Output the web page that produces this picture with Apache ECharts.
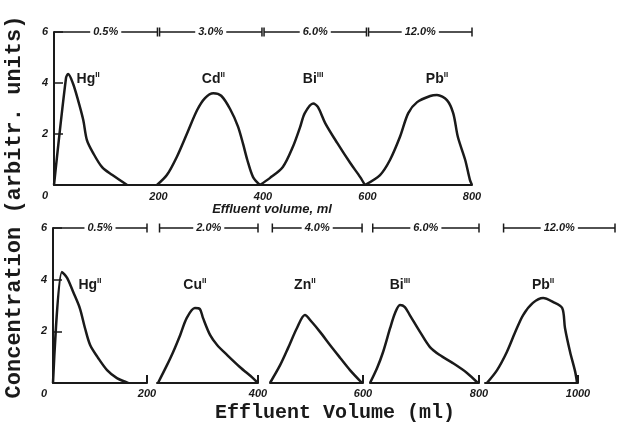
<!DOCTYPE html>
<html>
<head>
<meta charset="utf-8">
<script src="https://cdn.jsdelivr.net/npm/echarts@6/dist/echarts.min.js"></script>
<style>
	html, body { margin: 0; padding: 0; background: #fff; }
	#chart { width: 622px; height: 432px; }
</style>
</head>
<body>
<div id="chart"></div>
<script>
// upper run: 0.5 / 3 / 6 / 12 % steps, volume (ml) vs concentration
var hgTop = [[0, 0], [23, 4.2], [27, 4.35], [36, 4.0], [46, 3.33], [56, 2.55], [63, 1.76], [75, 1.25], [92, 0.7], [111, 0.4], [140, 0]];
var cdTop = [[197, 0], [216, 0.39], [235, 1.1], [255, 2.04], [274, 2.94], [289, 3.41], [305, 3.6], [320, 3.5], [337, 2.98], [352, 2.3], [362, 1.6], [370, 0.98], [381, 0.31], [394, 0]];
var biTop = [[394, 0], [413, 0.27], [438, 0.71], [457, 1.49], [471, 2.27], [480, 2.82], [496, 3.2], [505, 3.06], [519, 2.43], [542, 1.65], [567, 0.86], [586, 0.31], [595, 0]];
var pbTop = [[595, 0], [624, 0.39], [643, 0.98], [662, 1.88], [678, 2.82], [695, 3.25], [720, 3.49], [733, 3.53], [752, 3.33], [764, 2.82], [773, 1.88], [787, 0.98], [796, 0.2], [800, 0]];

// lower run: 0.5 / 2 / 4 / 6 / 12 % steps
var hgBottom = [[0, 0], [19, 4.3], [30, 4.07], [43, 3.52], [57, 2.9], [68, 2.13], [79, 1.47], [96, 0.97], [115, 0.5], [136, 0.19], [160, 0]];
var cuBottom = [[202, 0], [220, 0.7], [232, 1.2], [246, 1.86], [259, 2.52], [275, 2.9], [285, 2.86], [291, 2.52], [305, 1.86], [319, 1.47], [339, 1.08], [364, 0.62], [390, 0.19], [400, 0]];
var znBottom = [[400, 0], [422, 0.7], [439, 1.36], [458, 2.13], [475, 2.63], [490, 2.36], [508, 1.97], [529, 1.47], [551, 0.97], [572, 0.5], [598, 0]];
var biBottom = [[600, 0], [613, 0.58], [624, 1.2], [637, 2.13], [646, 2.71], [655, 3.02], [664, 2.94], [673, 2.63], [692, 1.97], [710, 1.39], [728, 1.08], [752, 0.77], [778, 0.39], [798, 0]];
var pbBottom = [[804, 0], [826, 0.5], [847, 1.2], [865, 1.97], [882, 2.63], [903, 3.1], [925, 3.29], [946, 3.14], [966, 2.9], [972, 2.13], [983, 1.2], [994, 0.43], [998, 0]];

var topIons = ['Hg', 'Cd', 'Bi', 'Pb'];
var topCharges = ['II', 'II', 'III', 'II'];
var topCurves = [hgTop, cdTop, biTop, pbTop];
var bottomIons = ['Hg', 'Cu', 'Zn', 'Bi', 'Pb'];
var bottomCharges = ['II', 'II', 'II', 'III', 'II'];
var bottomCurves = [hgBottom, cuBottom, znBottom, biBottom, pbBottom];

// eluent strength bands (ml ranges) drawn along the top of each panel
var topBands = [[0, 198], [202, 398], [402, 598], [602, 800]];
var topBandLabels = ['0.5%', '3.0%', '6.0%', '12.0%'];
var bottomBands = [[0, 200], [205, 400], [405, 598], [605, 800], [840, 1080]];
var bottomBandLabels = ['0.5%', '2.0%', '4.0%', '6.0%', '12.0%'];

// lower x axis is drawn in separate pieces
var bottomRanges = [[0, 200], [200, 400], [400, 600], [600, 800], [800, 1000]];
var yTicks = [0, 2, 4, 6];

var INK = '#1a1a1a';
var FONT = 'Liberation Sans';
var peakRich = {
	b: {fontFamily: FONT, fontWeight: 'bold', fontSize: 14, color: INK, lineHeight: 16},
	s: {fontFamily: FONT, fontWeight: 'bold', fontSize: 8, color: INK, lineHeight: 10, verticalAlign: 'top'}
};

var segLeft = [53, 157, 270, 370, 485];
var segWidth = [94, 101, 93, 109, 93];

var chart = echarts.init(document.getElementById('chart'));

function makeYAxis(gridIndex, visible) {
	return {
		gridIndex: gridIndex,
		type: 'value',
		min: yTicks[0],
		max: yTicks[yTicks.length - 1],
		interval: 2,
		show: visible,
		splitLine: {show: false},
		axisLine: {show: true, lineStyle: {color: INK, width: 2}},
		axisTick: {show: true, inside: true, length: 9, lineStyle: {color: INK, width: 1.5}},
		axisLabel: {
			margin: 6,
			fontFamily: FONT,
			fontStyle: 'italic',
			fontWeight: 'bold',
			fontSize: 11,
			color: INK,
			formatter: function (v) {
				return v === 0 ? '{z|0}' : String(v);
			},
			rich: {
				z: {fontFamily: FONT, fontStyle: 'italic', fontWeight: 'bold', fontSize: 11, color: INK, padding: [22, 0, 0, 0]}
			}
		}
	};
}

function curveSeries(data, axisIndex, ion, charge, labelY, dx) {
	var peak = data.reduce(function (a, b) {
		return b[1] > a[1] ? b : a;
	});
	return {
		type: 'line',
		xAxisIndex: axisIndex,
		yAxisIndex: axisIndex,
		data: data,
		symbol: 'none',
		smooth: 0.3,
		silent: true,
		lineStyle: {color: INK, width: 2.5},
		markPoint: {
			symbol: 'circle',
			symbolSize: 0,
			silent: true,
			data: [{coord: [peak[0], labelY]}],
			label: {
				show: true,
				position: 'inside',
				offset: [dx, 0],
				formatter: '{b|' + ion + '}{s|' + charge + '}',
				rich: peakRich
			}
		}
	};
}

function bandSeries(band, text, axisIndex, openStart) {
	var mid = (band[0] + band[1]) / 2;
	return {
		type: 'line',
		xAxisIndex: axisIndex,
		yAxisIndex: axisIndex,
		clip: false,
		silent: true,
		symbol: 'rect',
		symbolSize: [1.5, 9],
		itemStyle: {color: INK},
		lineStyle: {color: INK, width: 1.5},
		data: [
			{value: [band[0], 6], symbol: openStart ? 'none' : 'rect'},
			{
				value: [mid, 6],
				symbolSize: 0,
				label: {
					show: true,
					position: 'inside',
					formatter: text,
					backgroundColor: '#fff',
					padding: [0, 3],
					fontFamily: FONT,
					fontStyle: 'italic',
					fontWeight: 'bold',
					fontSize: 11,
					color: INK
				}
			},
			{value: [band[1], 6]}
		]
	};
}

var grids = [{left: 54, top: 32, width: 418, height: 153}];
var xAxes = [{
	gridIndex: 0,
	type: 'value',
	min: 0,
	max: 800,
	interval: 200,
	splitLine: {show: false},
	axisLine: {show: true, onZero: false, lineStyle: {color: INK, width: 2}},
	axisTick: {show: false},
	axisLabel: {
		margin: 6,
		showMinLabel: false,
		fontFamily: FONT,
		fontStyle: 'italic',
		fontWeight: 'bold',
		fontSize: 11,
		color: INK
	},
	name: 'Effluent volume, ml',
	nameLocation: 'middle',
	nameGap: 15,
	nameTextStyle: {
		fontFamily: FONT,
		fontStyle: 'italic',
		fontWeight: 'bold',
		fontSize: 13,
		color: INK,
		padding: [0, 0, 0, 18]
	}
}];
var yAxes = [makeYAxis(0, true)];
var series = [];

topCurves.forEach(function (curve, i) {
	series.push(curveSeries(curve, 0, topIons[i], topCharges[i], 4.15, i === 0 ? 20 : 0));
});
topBands.forEach(function (band, i) {
	series.push(bandSeries(band, topBandLabels[i], 0, i === 0));
});

bottomRanges.forEach(function (range, i) {
	var k = i + 1;
	grids.push({left: segLeft[i], top: 228, width: segWidth[i], height: 155});
	xAxes.push({
		gridIndex: k,
		type: 'value',
		min: range[0],
		max: range[1],
		interval: 200,
		splitLine: {show: false},
		axisLine: {show: true, onZero: false, lineStyle: {color: INK, width: 2}},
		axisTick: {show: true, inside: true, length: 8, lineStyle: {color: INK, width: 2}},
		axisLabel: {
			margin: 5,
			showMinLabel: false,
			showMaxLabel: true,
			formatter: function (v) {
				return String(v);
			},
			fontFamily: FONT,
			fontStyle: 'italic',
			fontWeight: 'bold',
			fontSize: 11,
			color: INK
		}
	});
	yAxes.push(makeYAxis(k, i === 0));
	series.push(curveSeries(bottomCurves[i], k, bottomIons[i], bottomCharges[i], 3.8, i === 0 ? 28 : 0));
});

// band overlay for the lower panel: same scale as each piece, wide enough
// that the last band can run past 1000 ml without being clipped
bottomBands.forEach(function (band, i) {
	var k = grids.length;
	var r = bottomRanges[i];
	var pxPerMl = segWidth[i] / (r[1] - r[0]);
	var hi = Math.max(r[1], band[1]);
	grids.push({left: segLeft[i], top: 228, width: Math.round((hi - r[0]) * pxPerMl), height: 155});
	xAxes.push({gridIndex: k, type: 'value', min: r[0], max: hi, show: false});
	yAxes.push({gridIndex: k, type: 'value', min: 0, max: 6, show: false});
	series.push(bandSeries(band, bottomBandLabels[i], k, i === 0));
});

chart.setOption({
	backgroundColor: '#fff',
	animation: false,
	grid: grids,
	xAxis: xAxes,
	yAxis: yAxes,
	series: series,
	graphic: [
		{
			type: 'text',
			x: 14,
			y: 207,
			rotation: Math.PI / 2,
			style: {
				text: 'Concentration (arbitr. units)',
				font: 'bold 22px "Liberation Mono"',
				fill: INK,
				textAlign: 'center',
				textVerticalAlign: 'middle',
				align: 'center',
				verticalAlign: 'middle'
			}
		},
		{
			type: 'text',
			x: 335,
			y: 413,
			style: {
				text: 'Effluent Volume (ml)',
				font: 'bold 20px "Liberation Mono"',
				fill: INK,
				textAlign: 'center',
				textVerticalAlign: 'middle',
				align: 'center',
				verticalAlign: 'middle'
			}
		}
	]
});
</script>
</body>
</html>
